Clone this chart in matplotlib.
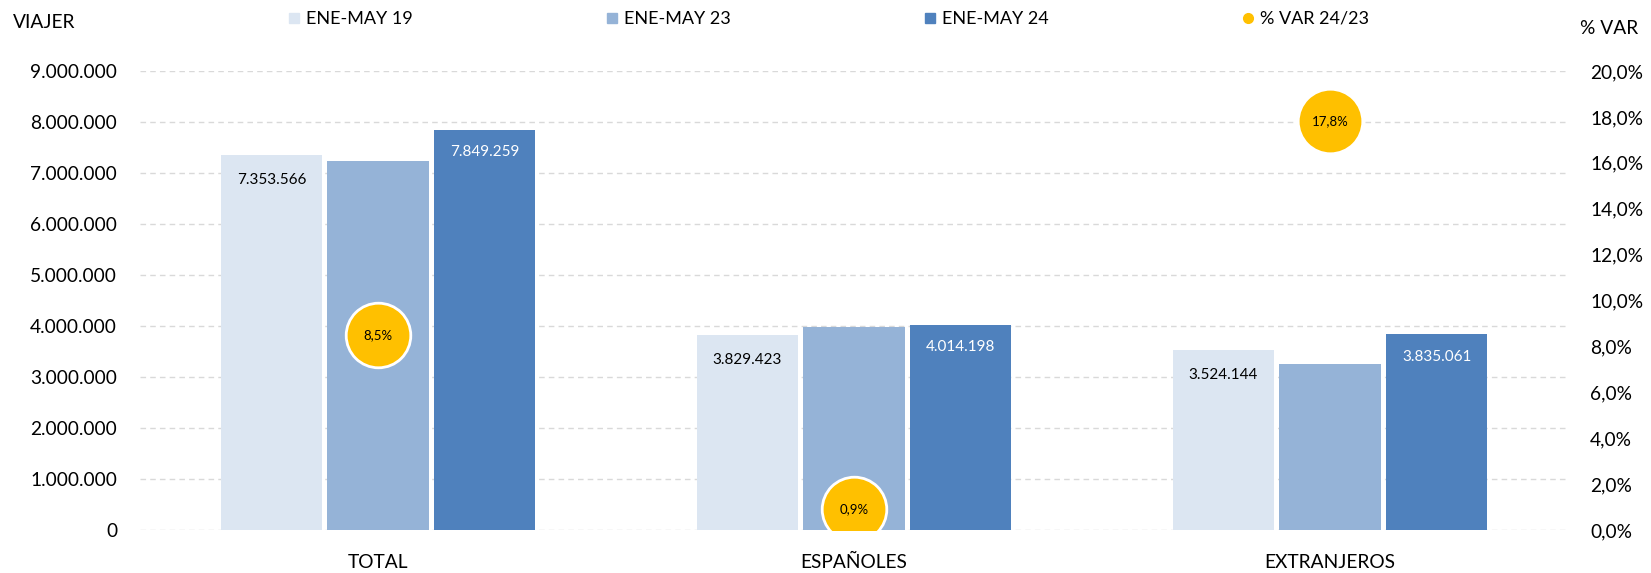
import matplotlib
matplotlib.use("Agg")
import matplotlib.pyplot as plt
from matplotlib.lines import Line2D
from matplotlib.ticker import FuncFormatter
import numpy as np

plt.rcParams['font.family'] = ['Lato', 'DejaVu Sans']

categories = ["TOTAL", "ESPAÑOLES", "EXTRANJEROS"]
series_names = ["ENE-MAY 19", "ENE-MAY 23", "ENE-MAY 24"]
v19 = [7353566, 3829423, 3524144]
v23 = [7235000, 3978400, 3255600]
v24 = [7849259, 4014198, 3835061]
var_pct = [8.5, 0.9, 17.8]
var_name = "% VAR 24/23"

colors = ["#DCE6F2", "#95B3D7", "#4F81BD"]
yellow = "#FFC000"

def thou(v, pos=None):
    return f"{int(round(v)):,}".replace(",", ".")

def pct(v, pos=None):
    return f"{v:.1f}%".replace(".", ",")

fig = plt.figure(figsize=(16.51, 5.73), dpi=100)
ax = fig.add_axes([140/1651, 43/573, 1428/1651, 459/573])
ax2 = ax.twinx()

x = np.arange(len(categories))
spacing = 0.224
width = 0.213
all_series = [v19, v23, v24]
for i, (vals, c) in enumerate(zip(all_series, colors)):
    ax.bar(x + (i - 1) * spacing, vals, width=width, color=c, zorder=2)

for xi, v in zip(x, v19):
    ax.annotate(thou(v), (xi - spacing, v), xytext=(0, -18), textcoords="offset points",
                ha="center", va="center", fontsize=11, color="black", zorder=3)
for xi, v in zip(x, v24):
    ax.annotate(thou(v), (xi + spacing, v), xytext=(0, -16), textcoords="offset points",
                ha="center", va="center", fontsize=11, color="white", zorder=3)

ax.set_xlim(-0.5, 2.5)
ax.set_ylim(0, 9000000)
ax.set_yticks(np.arange(0, 9000001, 1000000))
ax.yaxis.set_major_formatter(FuncFormatter(thou))
ax.set_xticks(x)
ax.set_xticklabels(categories)
ax.grid(axis="y", color="#D9D9D9", linestyle=(0, (4, 3)), linewidth=1, zorder=0)
ax.set_axisbelow(True)
for s in ax.spines.values():
    s.set_visible(False)
for s in ax2.spines.values():
    s.set_visible(False)
ax.tick_params(axis="both", length=0, labelsize=13.8, colors="black")
ax.tick_params(axis="y", pad=16.5)
ax.tick_params(axis="x", pad=17)

ax2.set_ylim(0, 20)
ax2.set_yticks(np.arange(0, 20.01, 2))
ax2.yaxis.set_major_formatter(FuncFormatter(pct))
ax2.tick_params(axis="y", length=0, labelsize=13.8, pad=16)
ax2.plot(x, var_pct, linestyle="none", marker="o", markersize=46.5,
         markerfacecolor=yellow, markeredgecolor="white", markeredgewidth=2, zorder=4)
for xi, p in zip(x, var_pct):
    ax2.text(xi, p, pct(p), ha="center", va="center", fontsize=9.5, color="black", zorder=5)

fig.text(13/1651, 1 - 23/573, "VIAJER", ha="left", va="center", fontsize=13.8)
fig.text(1580/1651, 1 - 29/573, "% VAR", ha="left", va="center", fontsize=13.8)

handles = [Line2D([], [], linestyle="none", marker="s", markersize=7, color=c) for c in colors]
handles.append(Line2D([], [], linestyle="none", marker="o", markersize=7, color=yellow))
fig.legend(handles, series_names + [var_name], loc="center", ncol=4,
           bbox_to_anchor=(827/1651, 1 - 19/573), frameon=False, fontsize=13,
           handletextpad=0.2, handlelength=1.0, columnspacing=10.5)

fig.savefig("out.png", dpi=100)
